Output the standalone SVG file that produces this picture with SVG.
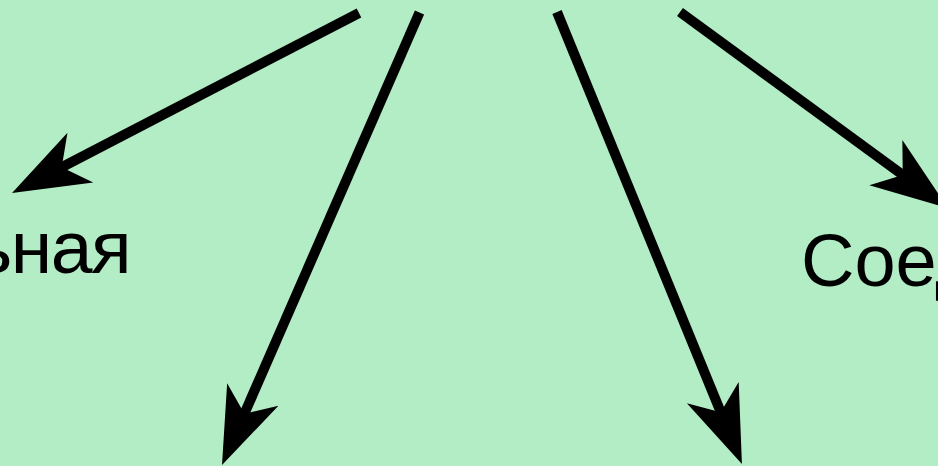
<svg xmlns="http://www.w3.org/2000/svg" width="938" height="466" viewBox="0 0 938 466">
  <defs>
    <marker id="arrow" markerUnits="userSpaceOnUse" viewBox="0 -30 80 60" markerWidth="80" markerHeight="60" refX="27" refY="0" orient="auto">
      <path d="M77,0 L0,-28 L21,0 L0,28 Z" fill="#000"/>
    </marker>
    <style>
      .edge { stroke: #000; stroke-width: 10; fill: none; marker-end: url(#arrow); }
      .label { font-family: "Liberation Sans", Arial, sans-serif; fill: #000; }
    </style>
  </defs>
  <rect width="938" height="466" fill="#B2EDC6"/>
  <g id="node-left">
    <text class="label" x="130" y="273" font-size="75" letter-spacing="-1.5" text-anchor="end">ьная</text>
  </g>
  <g id="node-right">
    <text class="label" x="801" y="286" font-size="74">Соед</text>
  </g>
  <g id="connectors">
    <line class="edge" x1="359" y1="13" x2="56.4" y2="170"/>
    <line class="edge" x1="419.5" y1="12.5" x2="242" y2="419.2"/>
    <line class="edge" x1="557" y1="12" x2="723" y2="417.7"/>
    <line class="edge" x1="680" y1="12" x2="907.6" y2="178.5"/>
  </g>
</svg>
